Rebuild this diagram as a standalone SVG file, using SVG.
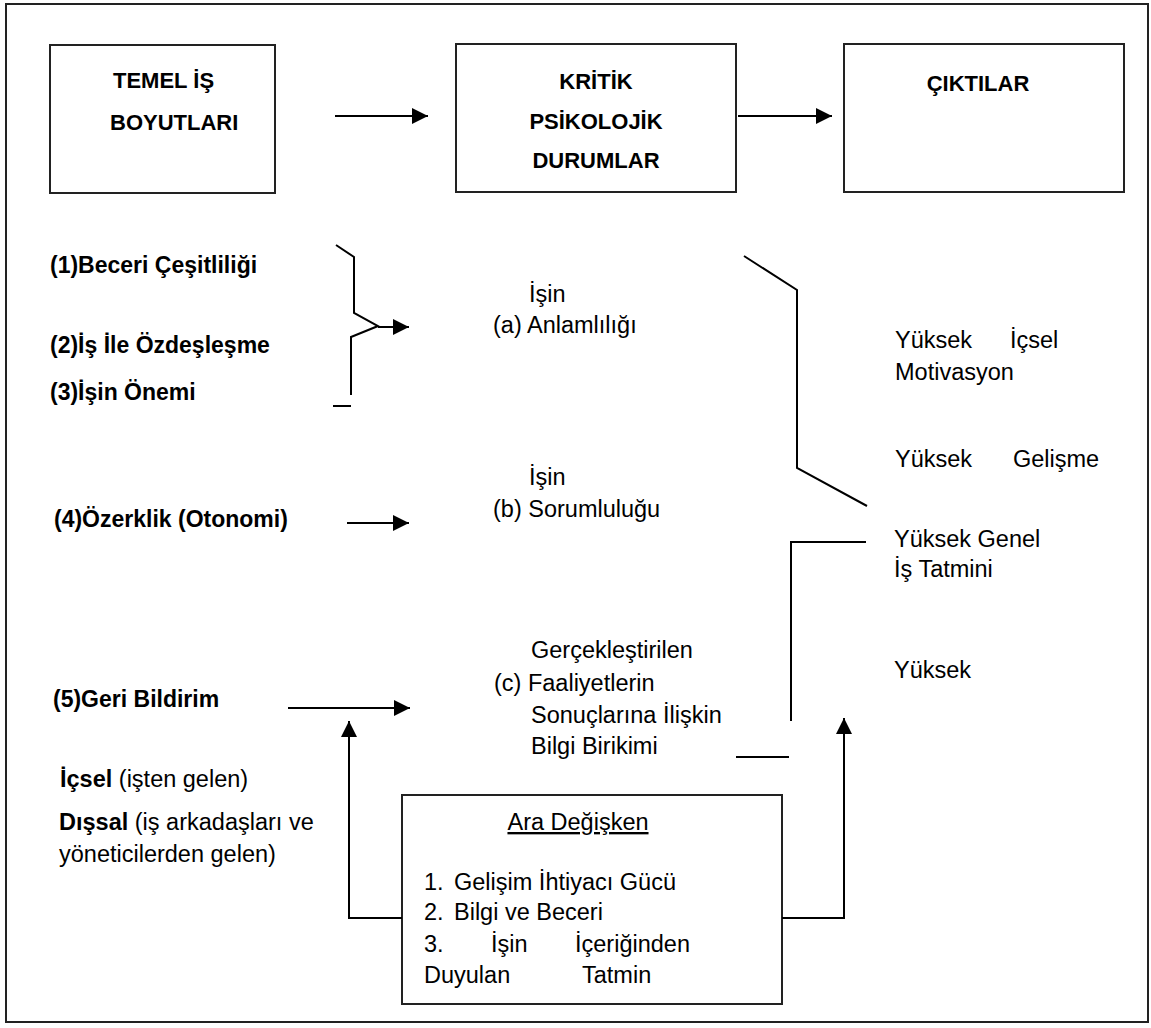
<svg xmlns="http://www.w3.org/2000/svg" width="1151" height="1028" viewBox="0 0 1151 1028">
<style>
  .frame{fill:#fff;stroke:#222;stroke-width:2}
  .box{fill:#fff;stroke:#222;stroke-width:2}
  .ln{fill:none;stroke:#000;stroke-width:2}
  .t{font-family:"Liberation Sans",Arial,sans-serif;font-size:23.5px;fill:#000}
  .b{font-family:"Liberation Sans",Arial,sans-serif;font-size:22px;font-weight:bold;fill:#000}
  .bl{font-family:"Liberation Sans",Arial,sans-serif;font-size:23px;font-weight:bold;fill:#000}
  .bm{text-anchor:middle}
</style>
<defs>
  <marker id="ah" viewBox="0 0 16 16" refX="16" refY="8" markerWidth="16" markerHeight="16" markerUnits="userSpaceOnUse" orient="auto">
    <path d="M0,0 L16,8 L0,16 z" fill="#000"/>
  </marker>
</defs>
<rect class="frame" x="6" y="4" width="1142" height="1018"/>

<g id="node-temel">
  <rect class="box" x="50" y="45" width="225" height="148"/>
  <text class="b" x="113" y="88">TEMEL İŞ</text>
  <text class="b" x="110" y="130">BOYUTLARI</text>
</g>
<g id="node-kritik">
  <rect class="box" x="456" y="44" width="280" height="148"/>
  <text class="b bm" x="596" y="89">KRİTİK</text>
  <text class="b bm" x="596" y="129">PSİKOLOJİK</text>
  <text class="b bm" x="596" y="168">DURUMLAR</text>
</g>
<g id="node-ciktilar">
  <rect class="box" x="844" y="44" width="280" height="148"/>
  <text class="b bm" x="978" y="91">ÇIKTILAR</text>
</g>

<g id="node-boyutlar">
  <text class="bl" x="50" y="273">(1)Beceri Çeşitliliği</text>
  <text class="bl" x="50" y="353">(2)İş İle Özdeşleşme</text>
  <text class="bl" x="50" y="400">(3)İşin Önemi</text>
  <text class="bl" x="54" y="527">(4)Özerklik (Otonomi)</text>
  <text class="bl" x="53" y="707">(5)Geri Bildirim</text>
  <text class="t" x="60" y="787"><tspan font-weight="bold">İçsel</tspan> (işten gelen)</text>
  <text class="t" x="59" y="830"><tspan font-weight="bold">Dışsal</tspan> (iş arkadaşları ve</text>
  <text class="t" x="59" y="862">yöneticilerden gelen)</text>
</g>

<g id="node-durumlar">
  <text class="t" x="529" y="302">İşin</text>
  <text class="t" x="493" y="333">(a) Anlamlılığı</text>
  <text class="t" x="529" y="485">İşin</text>
  <text class="t" x="493" y="517">(b) Sorumluluğu</text>
  <text class="t" x="531" y="658">Gerçekleştirilen</text>
  <text class="t" x="494" y="691">(c) Faaliyetlerin</text>
  <text class="t" x="531" y="723">Sonuçlarına İlişkin</text>
  <text class="t" x="531" y="754">Bilgi Birikimi</text>
</g>

<g id="node-sonuclar">
  <text class="t" x="895" y="348">Yüksek</text>
  <text class="t" x="1010" y="348">İçsel</text>
  <text class="t" x="895" y="380">Motivasyon</text>
  <text class="t" x="895" y="467">Yüksek</text>
  <text class="t" x="1013" y="467">Gelişme</text>
  <text class="t" x="894" y="547">Yüksek Genel</text>
  <text class="t" x="894" y="577">İş Tatmini</text>
  <text class="t" x="894" y="678">Yüksek</text>
</g>

<g id="node-ara">
  <rect class="box" x="402" y="795" width="380" height="209"/>
  <text class="t bm" x="578" y="830" text-decoration="underline">Ara Değişken</text>
  <text class="t" x="424" y="890">1.</text>
  <text class="t" x="454" y="890">Gelişim İhtiyacı Gücü</text>
  <text class="t" x="424" y="920">2.</text>
  <text class="t" x="454" y="920">Bilgi ve Beceri</text>
  <text class="t" x="424" y="952">3.</text>
  <text class="t" x="491" y="952">İşin</text>
  <text class="t" x="575" y="952">İçeriğinden</text>
  <text class="t" x="424" y="983">Duyulan</text>
  <text class="t" x="582" y="983">Tatmin</text>
</g>

<g id="connectors">
  <path class="ln" d="M335,116 H428" marker-end="url(#ah)"/>
  <path class="ln" d="M738,116 H832" marker-end="url(#ah)"/>
  <polyline class="ln" points="336,245 354,257 354,313 378,326 351,337 351,395"/>
  <path class="ln" d="M333,406 H351"/>
  <path class="ln" d="M378,327 H409" marker-end="url(#ah)"/>
  <path class="ln" d="M347,523 H409" marker-end="url(#ah)"/>
  <path class="ln" d="M288,708 H410" marker-end="url(#ah)"/>
  <polyline class="ln" points="744,256 797,290 797,468 867,506"/>
  <polyline class="ln" points="866,542 791,542 791,721"/>
  <path class="ln" d="M736,757 H789"/>
  <path class="ln" d="M402,918 H349 V721" marker-end="url(#ah)"/>
  <path class="ln" d="M782,918 H844 V718" marker-end="url(#ah)"/>
</g>
</svg>
